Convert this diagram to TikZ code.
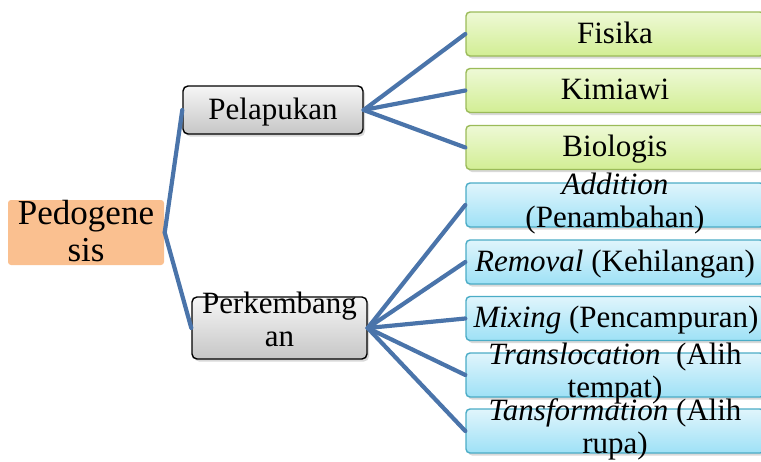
\documentclass[tikz,border=0pt]{standalone}
\usepackage{fontspec}
\setmainfont{Liberation Serif}
\usetikzlibrary{shadows}
\definecolor{conn}{RGB}{74,116,170}
\definecolor{orangefill}{RGB}{250,192,144}
\definecolor{greytop}{RGB}{246,246,246}
\definecolor{greybot}{RGB}{198,198,198}
\definecolor{greentop}{RGB}{238,249,214}
\definecolor{greenbot}{RGB}{210,238,148}
\definecolor{greenline}{RGB}{155,187,89}
\definecolor{bluetop}{RGB}{224,245,252}
\definecolor{bluebot}{RGB}{158,225,246}
\definecolor{blueline}{RGB}{75,172,198}
\newcommand\mystrut{\rule[-7pt]{0pt}{32pt}}
\begin{document}
\begin{tikzpicture}[x=1pt,y=-1pt,
  basebox/.style={rectangle, inner sep=0pt, line width=1.4pt},
  rootbox/.style={basebox, rounded corners=3pt, fill=orangefill, minimum width=156pt, minimum height=65pt},
  greybox/.style={basebox, rounded corners=5pt, draw=black, top color=greytop, bottom color=greybot,
     drop shadow={opacity=0.3, shadow xshift=2pt, shadow yshift=-2.5pt}},
  greenbox/.style={basebox, rounded corners=4pt, draw=greenline, top color=greentop, bottom color=greenbot,
     minimum width=298pt, minimum height=44pt,
     drop shadow={opacity=0.3, shadow xshift=2pt, shadow yshift=-2.5pt}},
  bluebox/.style={basebox, rounded corners=4pt, draw=blueline, top color=bluetop, bottom color=bluebot,
     minimum width=298pt, minimum height=44pt,
     drop shadow={opacity=0.3, shadow xshift=2pt, shadow yshift=-2.5pt}},
  txt/.style={inner sep=0pt, align=center, font=\rmfamily\fontsize{31}{27}\selectfont},
  onetxt/.style={txt, text height=25pt, text depth=7pt},
  conline/.style={draw=conn, line width=4.2pt, line cap=round, line join=round}
]
\useasboundingbox (0,0) rectangle (761,461);

% boxes
\node[rootbox] (ped) at (86,232.5) {};
\node[greybox, minimum width=180pt, minimum height=48pt] (pel) at (273,110) {};
\node[greybox, minimum width=175pt, minimum height=62pt] (perk) at (279.5,328) {};

\node[greenbox] (fis) at (615,34) {};
\node[greenbox] (kim) at (615,90.5) {};
\node[greenbox] (bio) at (615,147.5) {};

\node[bluebox] (add) at (615,205) {};
\node[bluebox] (rem) at (615,262) {};
\node[bluebox] (mix) at (615,318.5) {};
\node[bluebox] (tra) at (615,375) {};
\node[bluebox] (tsf) at (615,431) {};

% connectors
\draw[conline] (ped.east) -- (pel.west);
\draw[conline] (ped.east) -- (perk.west);
\foreach \t in {fis,kim,bio} \draw[conline] (pel.east) -- (\t.west);
\foreach \t in {add,rem,mix,tra,tsf} \draw[conline] (perk.east) -- (\t.west);

% texts
\node[txt, font=\rmfamily\fontsize{35}{37}\selectfont] (tped) at ([yshift=-1pt]ped.center) {\rule[-8pt]{0pt}{35pt}Pedogene\\sis\rule[-8pt]{0pt}{35pt}};
\node[onetxt] (tpel) at (pel.center) {Pelapukan};
\node[txt, font=\rmfamily\fontsize{31}{23}\selectfont] (tperk) at ([yshift=7pt]perk.center) {\mystrut Perkembang\\an\mystrut};

\node[onetxt] (tfis) at (fis.center) {Fisika};
\node[onetxt] (tkim) at (kim.center) {Kimiawi};
\node[onetxt] (tbio) at (bio.center) {Biologis};

\node[txt] (tadd) at ([yshift=3.5pt]add.center) {\mystrut\textit{Addition}\\(Penambahan)\mystrut};
\node[onetxt] (trem) at (rem.center) {\textit{Removal} (Kehilangan)};
\node[onetxt] (tmix) at ([xshift=1pt]mix.center) {\textit{Mixing} (Pencampuran)};
\node[txt] (ttra) at ([yshift=3.5pt]tra.center) {\mystrut\textit{Translocation}\ \ (Alih\\tempat)\mystrut};
\node[txt] (ttsf) at ([yshift=3.5pt]tsf.center) {\mystrut\textit{Tansformation} (Alih\\rupa)\mystrut};
\end{tikzpicture}
\end{document}
